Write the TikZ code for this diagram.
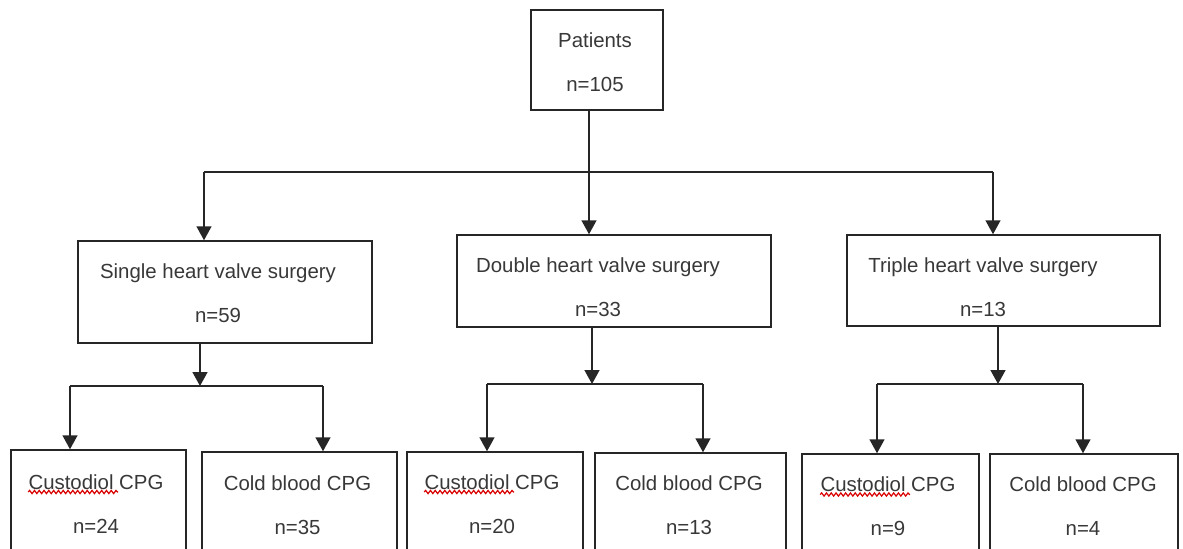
\documentclass[tikz,border=0pt]{standalone}
\usepackage{fontspec}
\setmainfont{Liberation Sans}
\usetikzlibrary{calc, arrows.meta, decorations.pathmorphing}

\begin{document}
\begin{tikzpicture}[x=0.5pt, y=-0.5pt,
    bx/.style={rectangle, draw=black!85, line width=0.75pt, inner sep=0pt},
    tx/.style={inner sep=0pt, align=center, text=black!78, font=\fontsize{10.2}{22}\selectfont},
    ln/.style={draw=black!85, line width=0.75pt},
    ar/.style={draw=black!85, line width=0.75pt, -{Triangle[width=7.5pt,length=7pt]}},
    sq/.style={red!85!black, line width=0.6pt, decorate, decoration={snake, amplitude=0.8pt, segment length=2.4pt}}]
            \useasboundingbox (0,0) rectangle (1183,548);
            \clip (0,0) rectangle (1183,548);

            \draw (597,60)     node[bx, minimum width=66pt,   minimum height=50pt](pat){};
            \draw (225,292)    node[bx, minimum width=147pt,  minimum height=51pt](single){};
            \draw (614,281)    node[bx, minimum width=157pt,  minimum height=46pt](double){};
            \draw (1003.5,280.5) node[bx, minimum width=156.5pt, minimum height=45.5pt](triple){};
            \draw (98.5,505)   node[bx, minimum width=87.5pt, minimum height=55pt](cust1){};
            \draw (299.5,506)  node[bx, minimum width=97.5pt, minimum height=54pt](cold1){};
            \draw (495,506)    node[bx, minimum width=88pt,   minimum height=54pt](cust2){};
            \draw (690.5,506.5) node[bx, minimum width=95.5pt, minimum height=53.5pt](cold2){};
            \draw (890.5,507)  node[bx, minimum width=88.5pt, minimum height=53pt](cust3){};
            \draw (1084,507)   node[bx, minimum width=94pt,   minimum height=53pt](cold3){};

            \draw (595,62)     node[tx](patt){Patients\\n=105};
            \draw (218,293.5)  node[tx](singlet){Single heart valve surgery\\n=59};
            \draw (598,287)    node[tx](doublet){Double heart valve surgery\\n=33};
            \draw (983,287.5)  node[tx](triplet){Triple heart valve surgery\\n=13};
            \draw (96,504)     node[tx](cust1t){Custodiol CPG\\n=24};
            \draw (297.5,505)  node[tx](cold1t){Cold blood CPG\\n=35};
            \draw (492,504)    node[tx](cust2t){Custodiol CPG\\n=20};
            \draw (689,505)    node[tx](cold2t){Cold blood CPG\\n=13};
            \draw (888,506.5)  node[tx](cust3t){Custodiol CPG\\n=9};
            \draw (1083,506.5) node[tx](cold3t){Cold blood CPG\\n=4};

            \draw[sq] ([yshift=6pt]cust1t.west) -- ++(45pt,0);
            \draw[sq] ([yshift=6pt]cust2t.west) -- ++(45pt,0);
            \draw[sq] ([yshift=6pt]cust3t.west) -- ++(45pt,0);

            \coordinate (trunk) at (589,172);
            \coordinate (busl) at (204,172);
            \coordinate (busr) at (993,172);
            \draw[ar] (trunk |- pat.south) -- (trunk |- double.north);
            \draw[ln] (busl) -- (busr);
            \draw[ar] (busl) -- (busl |- single.north);
            \draw[ar] (busr) -- (busr |- triple.north);

            \coordinate (bus1) at (200,386);
            \coordinate (bus1l) at (70,386);
            \coordinate (bus1r) at (323,386);
            \draw[ar] (bus1 |- single.south) -- (bus1);
            \draw[ln] (bus1l) -- (bus1r);
            \draw[ar] (bus1l) -- (bus1l |- cust1.north);
            \draw[ar] (bus1r) -- (bus1r |- cold1.north);

            \coordinate (bus2) at (592,384);
            \coordinate (bus2l) at (487,384);
            \coordinate (bus2r) at (703,384);
            \draw[ar] (bus2 |- double.south) -- (bus2);
            \draw[ln] (bus2l) -- (bus2r);
            \draw[ar] (bus2l) -- (bus2l |- cust2.north);
            \draw[ar] (bus2r) -- (bus2r |- cold2.north);

            \coordinate (bus3) at (998,384);
            \coordinate (bus3l) at (877,384);
            \coordinate (bus3r) at (1083,384);
            \draw[ar] (bus3 |- triple.south) -- (bus3);
            \draw[ln] (bus3l) -- (bus3r);
            \draw[ar] (bus3l) -- (bus3l |- cust3.north);
            \draw[ar] (bus3r) -- (bus3r |- cold3.north);
\end{tikzpicture}
\end{document}
